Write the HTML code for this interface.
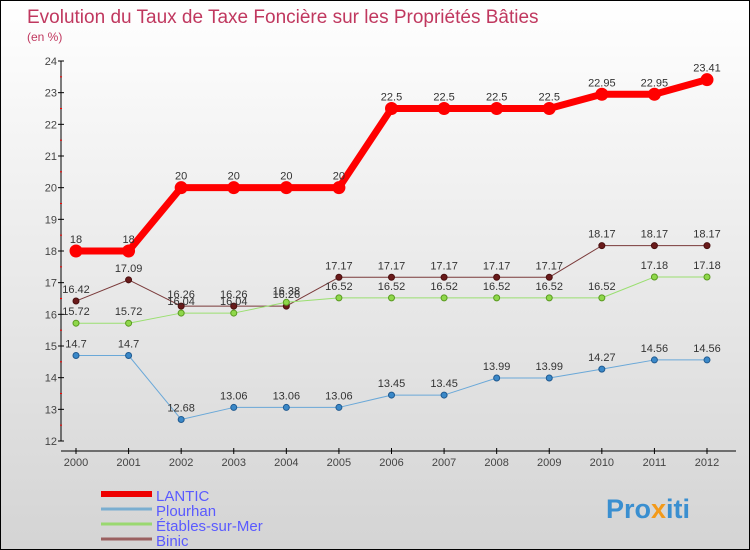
<!DOCTYPE html>
<html><head><meta charset="utf-8"><style>
body{margin:0}
#c{width:750px;height:550px;position:relative;box-sizing:border-box;border:1px solid #000;background:linear-gradient(#fff,#d4d4d4);font-family:"Liberation Sans",sans-serif;overflow:hidden}
svg text{font-family:"Liberation Sans",sans-serif}
</style></head><body>
<div id="c">
<svg id="s" width="750" height="550">
<text x="26" y="22" font-size="19" fill="#c0385f">Evolution du Taux de Taxe Foncière sur les Propriétés Bâties</text>
<text x="26" y="40" font-size="12" fill="#c0385f">(en %)</text>
<text x="605" y="517" font-size="27" font-weight="bold" fill="#3a8fd0">Pro<tspan fill="#f39a1a">x</tspan>iti</text>
</svg>
</div>
<script>
const years=["2000","2001","2002","2003","2004","2005","2006","2007","2008","2009","2010","2011","2012"];
const yTicks=[12,13,14,15,16,17,18,19,20,21,22,23,24];
const lantic=[18,18,20,20,20,20,22.5,22.5,22.5,22.5,22.95,22.95,23.41];
const plourhan=[14.7,14.7,12.68,13.06,13.06,13.06,13.45,13.45,13.99,13.99,14.27,14.56,14.56];
const etables=[15.72,15.72,16.04,16.04,16.38,16.52,16.52,16.52,16.52,16.52,16.52,17.18,17.18];
const binic=[16.42,17.09,16.26,16.26,16.26,17.17,17.17,17.17,17.17,17.17,18.17,18.17,18.17];
const names=["LANTIC","Plourhan","Étables-sur-Mer","Binic"];
const NS="http://www.w3.org/2000/svg",s=document.getElementById('s');
const X=i=>75+i*(706-75)/12, Y=v=>440-(v-12)*(380/12);
function mk(t,a,p){const e=document.createElementNS(NS,t);for(const k in a)e.setAttribute(k,a[k]);(p||s).appendChild(e);return e;}
// axes
let ya=mk('line',{x1:60,y1:60,x2:60,y2:440,stroke:'#000'});


yTicks.forEach(v=>{
 mk('line',{x1:57,x2:63,y1:Y(v),y2:Y(v),stroke:'#000'});
 if(v<24) mk('line',{x1:59,x2:61,y1:Y(v+0.5),y2:Y(v+0.5),stroke:'#f00'});
 let t=mk('text',{x:56,y:Y(v)+4,'font-size':11,fill:'#444','text-anchor':'end'});t.textContent=v;
 
 
});
let xa=mk('line',{x1:60,y1:450,x2:735,y2:450,stroke:'#000'});


years.forEach((y,i)=>{
 mk('line',{x1:X(i),x2:X(i),y1:447,y2:453,stroke:'#000'});
 let t=mk('text',{x:X(i),y:465,'font-size':11,fill:'#444','text-anchor':'middle'});t.textContent=y;
 
 
});
function series(d,col,w,r,dot,stroke,lbl,id){
 const g=mk('g',{});
 
 
 mk('polyline',{points:d.map((v,i)=>X(i)+','+Y(v)).join(' '),fill:'none',stroke:col,'stroke-width':w,'stroke-linejoin':'round'},g);
 d.forEach((v,i)=>{
  const c=mk('circle',{cx:X(i),cy:Y(v),r:r,fill:dot,stroke:stroke,'stroke-width':1},g);
  
  
  const t=mk('text',{x:X(i),y:Y(v)-8,'font-size':11,fill:'#333','text-anchor':'middle'},g);t.textContent=v;
  
  
 });
}
series(binic,'#7a3a3a',1,3,'#6a1a1a','#4a1010','','binic');
series(etables,'#9adf70',1,3,'#8fd84a','#5a9a20','','etables');
series(plourhan,'#6aa8d8',1,3,'#3a88c8','#205a90','','plourhan');
series(lantic,'#f00',7,6,'#f00','#f00','','lantic');
const lc=['#e00','#7aaed0','#9ad870','#9a6060'],lw=[6,3,3,3];
names.forEach((n,i)=>{
 const y=493+i*15;
 const g=mk('g',{});
 
 
 mk('line',{x1:100,x2:151,y1:y,y2:y,stroke:lc[i],'stroke-width':lw[i]},g);
 const t=mk('text',{x:155,y:y+7,'font-size':15,fill:'#5a5aff'},g);t.textContent=n;
});
</script>
</body></html>
